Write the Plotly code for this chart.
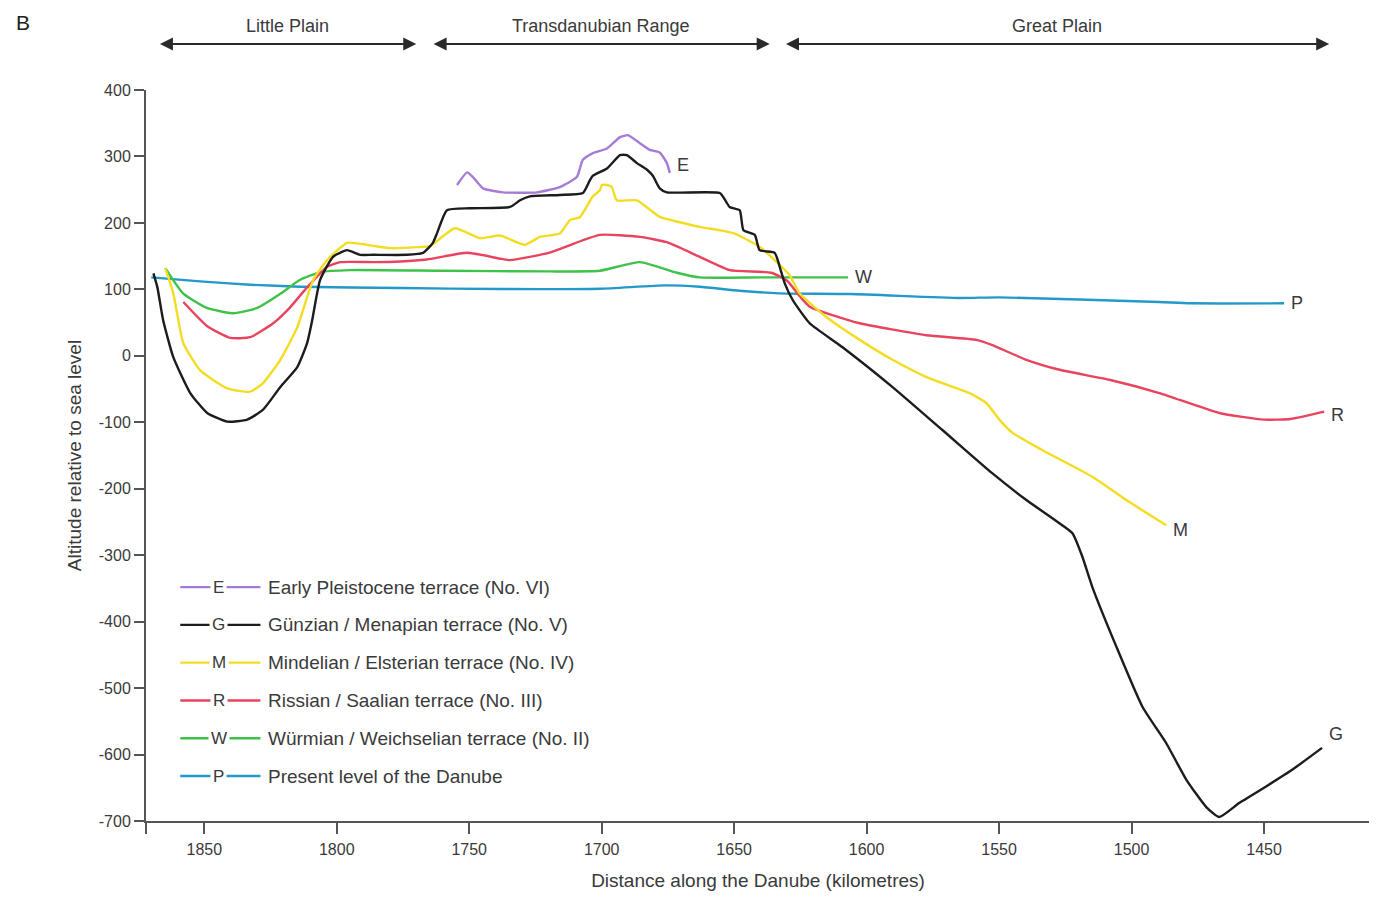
import plotly.graph_objects as go

# ---------------- data (distance along the Danube in km, altitude in m) ----------------
p_km = [1870, 1851.5, 1832.7, 1813.8, 1776, 1738.4, 1700.7, 1676, 1663, 1648, 1633, 1606, 1565, 1550, 1489.5, 1478, 1442.4]
p_alt = [118, 112, 107, 104, 102, 100.5, 101, 106, 104, 98, 94, 93, 87, 88, 81, 79, 79]

w_km = [1864.7, 1858, 1849, 1839, 1830, 1821, 1814, 1806, 1795, 1760, 1720, 1700.7, 1685.6, 1671.6, 1663, 1640, 1607]
w_alt = [132, 94, 72, 64, 72, 94, 114, 126, 129, 128, 127, 128, 141, 125, 118, 118, 118]

r_km = [1857.9, 1849, 1840.2, 1832.7, 1824, 1817.6, 1811.2, 1803.6, 1798.7, 1786, 1776, 1766, 1750.8, 1738, 1734.6,
        1720, 1700.7, 1685.6, 1675.4, 1663, 1651.7, 1636, 1630, 1625.3, 1621.5, 1602.6, 1577.4, 1558.5, 1552.5,
        1539.7, 1527.2, 1508.4, 1489.5, 1466.9, 1450, 1440, 1427.3]
r_alt = [81, 45, 27, 28, 49, 73, 103, 134, 141, 141, 142, 145, 155, 146, 144,
         155, 182, 179, 171, 149, 129, 125, 113, 90, 74, 49, 31, 24, 16,
         -6, -21, -36, -56, -86, -96, -95, -84]

m_km = [1864.7, 1861.7, 1857.9, 1851.5, 1841.3, 1832.7, 1827.8, 1821.3, 1814.9, 1808.9, 1803.6, 1796.1, 1788.5,
        1779.9, 1767.4, 1764.8, 1755.4, 1745.9, 1738.4, 1729, 1723.3, 1715.8, 1712, 1708.2, 1703.3, 1700.7, 1699.9,
        1698, 1696.2, 1694.3, 1686.7, 1678.1, 1670.5, 1663, 1655.4, 1649.8, 1640.4, 1634.7, 1629, 1625.3, 1615.1,
        1602.6, 1590.2, 1577.4, 1561.2, 1554.8, 1549.9, 1544.9, 1533.6, 1514.8, 1502, 1486.9]
m_alt = [132, 94, 19, -22, -49, -54, -41, -6, 43, 114, 144, 170, 167,
         162, 164, 165, 192, 177, 181, 167, 179, 184, 204, 209, 240, 249, 257,
         257, 254, 234, 234, 209, 201, 194, 189, 184, 164, 144, 121, 94, 58,
         24, -6, -32, -56, -71, -96, -116, -142, -182, -217, -255]

g_km = [1869.2, 1867.7, 1865.5, 1861.7, 1855.3, 1848.9, 1841.3, 1833.8, 1827.8, 1821.3, 1814.9, 1811.2, 1809.3,
        1806.3, 1801.4, 1796.1, 1791.2, 1786.3, 1773.5, 1767.4, 1763.7, 1762.1, 1758.4, 1749.7, 1734.6, 1730.8,
        1727.1, 1715.8, 1707.1, 1704.5, 1703.3, 1698, 1693.1, 1690.5, 1686.7, 1682.9, 1680.7, 1678.1, 1675.4,
        1655.4, 1653.5, 1651.7, 1647.9, 1646.5, 1642.2, 1640.4, 1634.7, 1632.8, 1630.9, 1627.9, 1621.5, 1609.1,
        1590.2, 1571.3, 1552.5, 1539.7, 1527.2, 1522.3, 1518.6, 1514.8, 1505.7, 1495.9, 1486.9, 1479.3, 1471.8,
        1466.9, 1459.4, 1449.2, 1439.4, 1428.1]
g_alt = [124, 103, 53, -2, -56, -86, -99, -96, -81, -47, -17, 19, 53,
         114, 149, 159, 152, 152, 152, 155, 170, 185, 219, 222, 224, 234,
         240, 242, 245, 264, 271, 282, 302, 302, 290, 280, 271, 252, 246,
         245, 235, 224, 219, 189, 182, 159, 155, 134, 109, 84, 49, 13,
         -47, -112, -177, -217, -252, -267, -302, -348, -438, -528, -583, -638, -679,
         -694, -673, -648, -623, -590]

e_km = [1754.6, 1750.8, 1748.6, 1744.8, 1737.3, 1724.4, 1715.8, 1709.4, 1707.1, 1703.3, 1698, 1693.1, 1690.1,
        1685.6, 1681.8, 1678.1, 1675.4, 1674.3]
e_alt = [257, 276, 269, 252, 246, 246, 254, 269, 295, 305, 312, 329, 332,
         320, 310, 306, 290, 275]

x_range = [1872, 1410]
x_ticks = [1872, 1850, 1800, 1750, 1700, 1650, 1600, 1550, 1500, 1450, 1410]
x_tick_labels = ["", "1850", "1800", "1750", "1700", "1650", "1600", "1550", "1500", "1450", ""]
y_ticks = [400, 300, 200, 100, 0, -100, -200, -300, -400, -500, -600, -700]
y_tick_labels = [str(v) for v in y_ticks]

regions = ["Little Plain", "Transdanubian Range", "Great Plain"]
region_start = [1867.3, 1764.0, 1631.0]
region_end = [1770.0, 1636.6, 1425.4]

# (letter, legend text, km, alt, colour, label y-shift)
series = [
    ("E", "Early Pleistocene terrace (No. VI)", e_km, e_alt, "#a57bd6", 8),
    ("G", "Günzian / Menapian terrace (No. V)", g_km, g_alt, "#1c1c1c", 14),
    ("M", "Mindelian / Elsterian terrace (No. IV)", m_km, m_alt, "#f3dd22", -5),
    ("R", "Rissian / Saalian terrace (No. III)", r_km, r_alt, "#e8445e", -3),
    ("W", "Würmian / Weichselian terrace (No. II)", w_km, w_alt, "#3fc24a", 0),
    ("P", "Present level of the Danube", p_km, p_alt, "#2399c9", 0),
]

FONT = "Liberation Sans, Arial, sans-serif"
TXT = "#3a3a3a"

fig = go.Figure()

# draw order: P first (bottom), E last
for letter, name, xs, ys, col, ysh in reversed(series):
    fig.add_trace(go.Scatter(x=xs, y=ys, mode="lines", name=name,
                             line=dict(color=col, width=2.4, shape="spline", smoothing=0.5),
                             showlegend=False, hoverinfo="skip"))
    fig.add_annotation(x=xs[-1], y=ys[-1], xref="x", yref="y", text=letter, showarrow=False,
                       xanchor="left", yanchor="middle", xshift=5, yshift=ysh,
                       font=dict(family=FONT, size=18, color=TXT))

# manual legend (paper coordinates)
leg_top = 0.320
leg_step = 0.0517
for i, (letter, name, xs, ys, col, ysh) in enumerate(series):
    yy = leg_top - i * leg_step
    fig.add_shape(type="line", xref="paper", yref="paper", x0=0.028, x1=0.0935, y0=yy, y1=yy,
                  line=dict(color=col, width=2.4))
    fig.add_annotation(x=0.0596, y=yy, xref="paper", yref="paper", text=letter, showarrow=False,
                       xanchor="center", yanchor="middle", bgcolor="white", borderpad=2,
                       font=dict(family=FONT, size=17, color=TXT))
    fig.add_annotation(x=0.0978, y=yy, xref="paper", yref="paper", text=name, showarrow=False,
                       xanchor="left", yanchor="middle", font=dict(family=FONT, size=19, color=TXT))

# region arrows above the plot
ARROW_Y = 1.063  # paper units above the plotting area
for name, a, b in zip(regions, region_start, region_end):
    fig.add_annotation(x=b, y=ARROW_Y, ax=a, ay=0, xref="x", yref="paper", axref="x", ayref="pixel",
                       text="", showarrow=True, arrowhead=2, arrowside="end+start",
                       arrowsize=1.3, arrowwidth=2, arrowcolor="#2a2a2a")
    fig.add_annotation(x=(a + b) / 2, y=ARROW_Y, xref="x", yref="paper", text=name, showarrow=False,
                       xanchor="center", yanchor="middle", yshift=18,
                       font=dict(family=FONT, size=18, color=TXT))

fig.add_annotation(x=-0.108, y=1.093, xref="paper", yref="paper", text="B", showarrow=False,
                   xanchor="left", yanchor="middle",
                   font=dict(family=FONT, size=21, color="#222"))

# the page body has an 8px margin, so the figure is 8px smaller and margins shifted
fig.update_layout(
    width=1369, height=889,
    margin=dict(l=138, r=7, t=82, b=76),
    paper_bgcolor="white", plot_bgcolor="white",
    font=dict(family=FONT, size=16, color=TXT),
    showlegend=False,
)
fig.update_xaxes(range=x_range, tickvals=x_ticks, ticktext=x_tick_labels, showgrid=False, zeroline=False,
                 showline=True, linecolor="#555", linewidth=2, ticks="outside", ticklen=11,
                 tickcolor="#555", tickwidth=1.5, tickfont=dict(family=FONT, size=16, color=TXT),
                 ticklabelstandoff=2,
                 title=dict(text="Distance along the Danube (kilometres)", standoff=16,
                            font=dict(family=FONT, size=19, color=TXT)))
fig.update_yaxes(range=[-700, 400], tickvals=y_ticks, ticktext=y_tick_labels, showgrid=False, zeroline=False,
                 showline=True, linecolor="#555", linewidth=2, ticks="outside", ticklen=10,
                 tickcolor="#555", tickwidth=1.5, tickfont=dict(family=FONT, size=16, color=TXT),
                 title=dict(text="Altitude relative to sea level", standoff=12,
                            font=dict(family=FONT, size=19, color=TXT)))

fig.write_html("out.html")
